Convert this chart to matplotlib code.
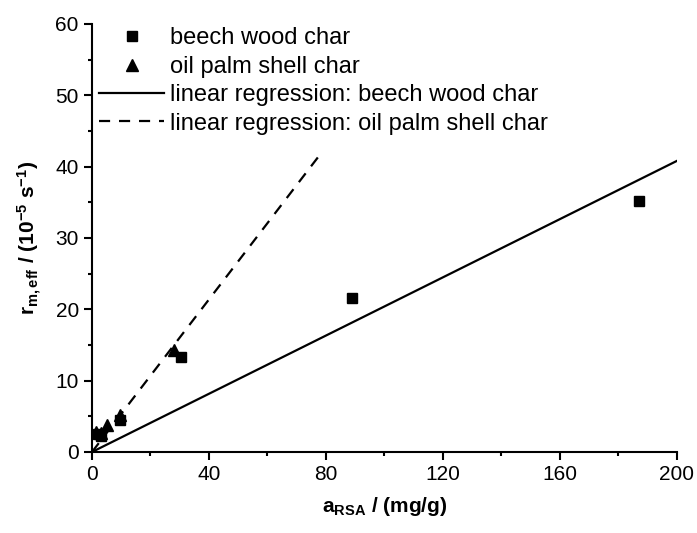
import matplotlib
matplotlib.use('Agg')
import matplotlib.pyplot as plt
import numpy as np
from matplotlib.ticker import MultipleLocator

plt.rcParams['font.family'] = ['Liberation Sans', 'DejaVu Sans']
plt.rcParams['mathtext.fontset'] = 'custom'
plt.rcParams['mathtext.rm'] = 'Liberation Sans:bold'
plt.rcParams['mathtext.bf'] = 'Liberation Sans:bold'
plt.rcParams['mathtext.it'] = 'Liberation Sans:bold'

# measured points
beech_x = [2, 3, 9.5, 30.5, 89, 187]
beech_y = [2.5, 2.2, 4.5, 13.3, 21.6, 35.2]
palm_x = [1.5, 3, 5, 9.5, 28]
palm_y = [2.8, 2.6, 3.8, 5.2, 14.3]

# regression lines (through origin)
beech_fit_x = [0, 200]
beech_fit_y = [0, 40.8]
palm_fit_x = [0, 78]
palm_fit_y = [0, 41.7]

fig = plt.figure(figsize=(6.97, 5.33), dpi=100)
ax = fig.add_axes([0.132, 0.152, 0.839, 0.803])

ax.plot(beech_x, beech_y, 's', color='black', markersize=7, label='beech wood char', zorder=3)
ax.plot(palm_x, palm_y, '^', color='black', markersize=8, label='oil palm shell char', zorder=3)
ax.plot(beech_fit_x, beech_fit_y, '-', color='black', lw=1.6, label='linear regression: beech wood char')
ax.plot(palm_fit_x, palm_fit_y, '--', color='black', lw=1.6, dashes=(5, 4),
        label='linear regression: oil palm shell char')

ax.set_xlim(0, 200)
ax.set_ylim(0, 60)
ax.xaxis.set_major_locator(MultipleLocator(40))
ax.xaxis.set_minor_locator(MultipleLocator(20))
ax.yaxis.set_major_locator(MultipleLocator(10))
ax.yaxis.set_minor_locator(MultipleLocator(5))

ax.spines['top'].set_visible(False)
ax.spines['right'].set_visible(False)
for s in ['left', 'bottom']:
    ax.spines[s].set_linewidth(1.5)
ax.tick_params(which='major', direction='out', length=6, width=1.5, labelsize=15)
ax.tick_params(which='minor', direction='out', length=3, width=1.5)

ax.set_xlabel(r'a$_{\mathbf{RSA}}$ / (mg/g)', fontsize=15, fontweight='bold', labelpad=8)
ax.set_ylabel(r'r$_{\mathbf{m,eff}}$ / (10$^{\mathbf{-5}}$ s$^{\mathbf{-1}}$)', fontsize=15,
              fontweight='bold', labelpad=8)

ax.legend(loc='upper left', frameon=False, fontsize=17, handlelength=2.75,
          handletextpad=0.25, labelspacing=0.27, borderaxespad=0.2,
          bbox_to_anchor=(-0.012, 1.025))

fig.savefig('out.png', dpi=100)
